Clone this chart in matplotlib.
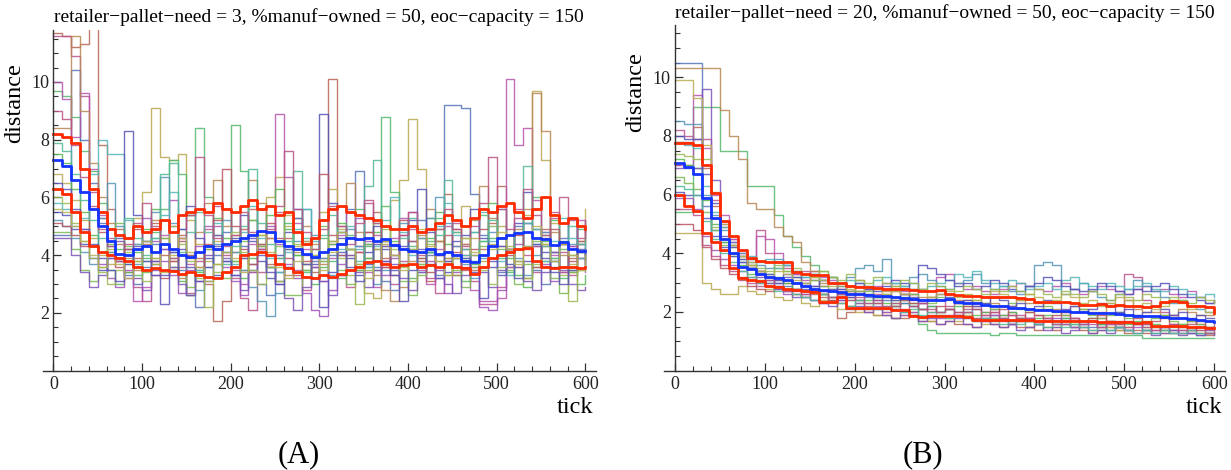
import numpy as np
import matplotlib
matplotlib.use('Agg')
import matplotlib.pyplot as plt
from matplotlib.colors import hsv_to_rgb
from matplotlib.ticker import MultipleLocator

plt.rcParams['font.family'] = ['Liberation Serif', 'DejaVu Serif']

# Colours of the single runs (Mathematica style hue sequence)
run_hues = [0.03, 0.906, 0.142, 0.378, 0.614, 0.85, 0.086, 0.322,
            0.558, 0.794, 0.266, 0.502, 0.67, 0.738, 0.974, 0.21,
            0.446, 0.682, 0.918, 0.154]

# Panel A: retailer-pallet-need = 3, one value every 10 ticks (0..600)
runs_a = [
    [11.7, 11.6, 11.2, 11.3, 12.5, 7.8, 5.6, 4.9, 4.2, 3.9,
     4.4, 5.1, 4.0, 3.5, 4.7, 5.4, 3.9, 3.0, 1.7, 2.4,
     3.6, 4.9, 5.6, 4.3, 3.7, 3.1, 4.6, 5.3, 4.0, 3.4,
     3.9, 10.1, 5.0, 4.2, 3.6, 4.8, 5.5, 3.9, 3.3, 4.2,
     5.0, 3.8, 3.1, 4.5, 6.1, 4.9, 4.0, 3.5, 4.2, 5.1,
     6.4, 4.7, 3.8, 3.2, 4.3, 4.9, 4.1, 3.4, 3.9, 4.4, 4.6],
    [11.6, 11.6, 10.9, 9.5, 6.2, 5.3, 4.6, 3.8, 3.4, 2.9,
     2.4, 3.3, 4.2, 5.0, 3.6, 2.7, 3.8, 4.9, 5.7, 4.3,
     3.2, 2.5, 2.1, 3.4, 4.6, 5.5, 4.2, 3.5, 2.8, 3.9,
     5.2, 4.4, 3.3, 2.9, 4.1, 5.8, 4.7, 3.6, 3.0, 3.8,
     4.9, 4.0, 3.2, 2.7, 3.9, 5.1, 4.4, 3.1, 2.3, 2.3,
     2.9, 4.2, 5.3, 4.0, 3.4, 4.6, 5.5, 4.1, 3.3, 3.9, 4.2],
    [6.8, 6.5, 5.9, 5.2, 4.6, 4.0, 3.7, 3.9, 4.6, 5.3,
     6.2, 9.1, 7.4, 7.3, 7.5, 5.2, 4.4, 3.8, 4.5, 5.6,
     4.7, 3.9, 3.4, 4.8, 6.0, 6.7, 5.4, 4.3, 3.7, 4.6,
     5.5, 6.3, 4.9, 4.0, 3.5, 2.7, 2.5, 4.4, 5.9, 6.6,
     8.7, 7.0, 5.3, 4.5, 3.9, 4.8, 5.7, 4.6, 3.8, 4.4,
     5.0, 4.2, 3.6, 5.4, 9.7, 7.3, 5.1, 4.4, 3.7, 4.5, 5.6],
    [9.7, 9.5, 8.8, 7.6, 6.9, 5.8, 4.9, 4.2, 3.7, 3.3,
     3.9, 4.8, 5.6, 7.3, 6.8, 5.4, 8.4, 6.0, 4.7, 4.1,
     8.5, 6.9, 5.2, 4.4, 3.6, 4.5, 5.1, 4.0, 3.4, 3.9,
     4.6, 3.8, 3.2, 4.7, 5.6, 4.3, 3.5, 8.8, 6.2, 4.9,
     4.3, 3.7, 4.5, 5.3, 4.1, 3.3, 3.9, 4.8, 5.4, 4.6,
     3.9, 3.4, 4.2, 5.1, 6.0, 4.7, 3.8, 3.2, 4.0, 4.9, 5.1],
    [4.7, 4.7, 10.4, 8.0, 6.5, 5.1, 4.3, 3.8, 3.3, 3.0,
     3.6, 4.4, 5.2, 4.1, 3.5, 2.6, 2.2, 3.1, 4.0, 4.8,
     5.5, 4.3, 3.7, 3.0, 2.6, 3.4, 4.2, 5.3, 4.5, 3.8,
     3.3, 4.0, 4.8, 5.6, 6.9, 4.4, 3.6, 3.1, 2.8, 3.7,
     4.5, 5.2, 4.0, 3.3, 9.2, 9.2, 9.1, 6.1, 4.7, 3.9,
     3.4, 4.1, 5.0, 4.3, 3.5, 3.0, 3.8, 4.6, 5.3, 4.4, 4.0],
    [10.0, 9.4, 8.1, 9.6, 7.0, 5.4, 4.5, 3.9, 3.2, 2.4,
     2.9, 3.8, 4.7, 5.9, 4.6, 3.7, 3.1, 4.2, 5.0, 4.1,
     3.5, 3.0, 4.4, 5.6, 4.8, 8.9, 6.7, 5.1, 4.2, 3.6,
     3.1, 3.9, 4.7, 5.5, 4.3, 3.4, 2.9, 3.8, 4.6, 5.3,
     4.1, 3.5, 3.0, 4.2, 5.0, 4.3, 3.6, 2.8, 2.4, 2.4,
     2.5, 10.1, 7.8, 8.4, 5.9, 4.8, 4.0, 3.4, 4.3, 5.2, 4.7],
    [8.4, 8.4, 11.6, 9.0, 7.2, 6.0, 5.1, 4.4, 3.9, 3.5,
     4.3, 5.2, 4.6, 3.8, 3.2, 3.9, 4.8, 5.8, 6.6, 5.0,
     4.1, 3.5, 6.6, 5.8, 4.6, 3.9, 3.3, 4.1, 5.0, 4.4,
     3.7, 4.5, 5.7, 6.5, 4.8, 3.9, 3.3, 2.8, 2.4, 2.9,
     3.8, 4.7, 5.6, 4.5, 3.8, 3.3, 4.4, 5.2, 6.4, 5.3,
     4.3, 3.6, 4.9, 5.6, 9.6, 8.3, 4.8, 4.0, 3.4, 4.1, 4.5],
    [7.5, 7.2, 6.3, 5.5, 4.7, 4.1, 3.5, 3.0, 3.4, 4.1,
     4.9, 5.6, 4.4, 3.6, 3.1, 2.6, 3.4, 4.3, 5.3, 4.6,
     3.8, 3.2, 3.9, 4.7, 5.4, 6.3, 4.9, 4.0, 3.5, 3.0,
     3.6, 4.4, 5.1, 4.2, 3.5, 3.9, 4.8, 5.7, 4.5, 3.7,
     3.2, 3.9, 4.6, 5.5, 4.4, 3.6, 3.1, 3.7, 4.5, 5.8,
     4.6, 3.9, 3.3, 2.9, 3.6, 4.5, 5.2, 4.2, 3.5, 3.0, 3.3],
    [5.2, 5.0, 4.6, 4.1, 3.7, 5.3, 6.5, 5.0, 4.2, 3.7,
     4.5, 5.5, 6.7, 5.1, 4.0, 3.4, 2.8, 3.6, 4.4, 5.2,
     4.1, 3.5, 2.9, 2.4, 1.9, 2.7, 3.6, 4.5, 5.6, 4.7,
     3.9, 3.3, 4.0, 4.9, 4.3, 3.6, 3.0, 3.5, 4.3, 5.1,
     4.2, 3.6, 5.3, 6.0, 5.1, 4.3, 3.7, 3.2, 3.9, 4.8,
     5.6, 4.7, 3.9, 3.3, 4.0, 4.8, 4.1, 3.6, 4.4, 5.0, 4.8],
    [6.3, 6.1, 5.5, 4.9, 4.3, 3.7, 3.2, 2.9, 3.5, 4.4,
     5.3, 4.5, 3.8, 3.3, 2.7, 3.5, 4.3, 5.0, 4.2, 3.6,
     3.1, 2.6, 3.4, 4.2, 5.0, 4.4, 3.7, 3.2, 2.7, 2.1,
     1.9, 2.8, 3.7, 4.6, 5.3, 4.5, 3.8, 3.3, 3.9, 4.7,
     5.5, 4.6, 3.8, 3.2, 2.7, 3.4, 4.2, 3.6, 2.2, 2.1,
     2.8, 3.6, 4.4, 5.1, 4.3, 3.7, 3.1, 3.6, 4.3, 3.9, 3.4],
    [4.8, 4.8, 4.2, 3.5, 3.1, 3.6, 4.4, 5.1, 4.3, 3.8,
     3.4, 3.9, 4.6, 3.9, 3.3, 2.9, 3.5, 4.2, 3.7, 3.2,
     3.8, 4.5, 5.2, 4.3, 3.6, 3.1, 2.6, 2.6, 3.5, 4.2,
     5.0, 4.2, 3.5, 3.0, 3.7, 4.4, 5.1, 4.3, 3.6, 3.1,
     2.6, 3.3, 4.1, 4.9, 4.1, 3.5, 2.9, 3.6, 4.3, 5.0,
     4.2, 3.5, 3.0, 3.7, 4.5, 3.8, 3.2, 2.7, 3.4, 4.1, 3.8],
    [5.8, 5.6, 5.0, 5.3, 6.8, 8.0, 7.5, 7.5, 5.2, 4.4,
     3.8, 4.6, 5.4, 6.2, 4.9, 4.0, 3.5, 4.3, 5.1, 4.4,
     3.7, 4.8, 5.7, 4.6, 3.9, 3.4, 4.1, 4.9, 5.6, 4.5,
     3.8, 3.2, 4.2, 5.0, 4.2, 3.6, 4.3, 5.2, 6.0, 4.8,
     4.0, 3.4, 4.1, 5.0, 5.8, 4.7, 4.0, 4.8, 5.5, 4.5,
     3.8, 3.3, 4.2, 5.1, 4.4, 3.8, 4.5, 5.3, 4.6, 3.9, 4.4],
    [5.5, 5.4, 4.9, 4.4, 3.9, 3.5, 3.9, 4.6, 8.3, 5.4,
     4.5, 3.8, 3.3, 4.1, 4.9, 5.7, 4.6, 3.9, 3.3, 3.8,
     4.6, 5.4, 4.5, 3.8, 3.2, 4.0, 4.8, 5.6, 4.4, 3.7,
     8.9, 5.8, 4.6, 3.9, 3.3, 4.1, 5.0, 4.2, 3.5, 4.3,
     5.2, 6.3, 4.8, 4.0, 3.4, 3.9, 4.7, 5.6, 4.6, 3.8,
     3.3, 4.2, 5.1, 6.2, 4.9, 4.1, 3.6, 4.4, 5.3, 4.2, 3.7],
    [4.6, 4.6, 4.0, 3.4, 2.9, 3.3, 3.9, 4.5, 3.8, 3.2,
     2.8, 3.5, 4.2, 3.6, 3.0, 2.6, 3.3, 4.0, 4.7, 3.9,
     3.3, 2.8, 3.5, 4.2, 3.6, 3.0, 2.5, 2.1, 2.9, 3.6,
     3.1, 2.6, 3.3, 4.0, 3.4, 2.9, 3.5, 4.3, 3.7, 3.2,
     2.8, 3.4, 4.1, 3.5, 3.0, 2.7, 3.3, 4.0, 3.4, 2.9,
     3.5, 4.2, 3.6, 3.1, 2.8, 3.4, 4.1, 3.5, 3.0, 2.8, 2.9],
    [5.1, 5.0, 4.7, 4.3, 5.6, 4.8, 4.1, 3.6, 4.2, 4.9,
     4.3, 3.7, 3.2, 3.8, 4.5, 4.0, 3.6, 4.4, 5.2, 7.0,
     5.0, 4.2, 3.7, 4.4, 5.1, 4.6, 3.9, 3.3, 3.8, 4.6,
     6.8, 4.7, 4.0, 3.5, 4.1, 4.8, 4.2, 3.6, 4.4, 5.2,
     4.5, 3.9, 3.4, 4.0, 4.7, 4.1, 3.5, 4.2, 4.9, 5.5,
     4.6, 4.0, 4.7, 4.2, 3.6, 4.3, 4.9, 4.4, 3.8, 4.5, 4.9],
    [6.0, 5.8, 5.1, 4.5, 3.9, 3.4, 3.0, 3.5, 4.1, 3.6,
     3.1, 3.7, 4.4, 5.0, 4.4, 3.8, 3.2, 2.2, 3.4, 4.1,
     4.8, 4.1, 3.5, 3.0, 3.6, 4.3, 5.0, 4.4, 3.7, 3.2,
     3.8, 4.5, 3.9, 3.3, 2.3, 3.5, 4.2, 4.9, 4.2, 3.6,
     3.1, 3.7, 4.4, 3.8, 3.3, 3.9, 4.6, 4.0, 3.5, 3.0,
     3.6, 4.3, 3.8, 3.2, 3.7, 4.4, 3.9, 3.3, 2.4, 3.5, 4.0],
    [7.9, 7.6, 6.8, 5.9, 5.2, 4.6, 4.1, 4.7, 5.3, 4.6,
     4.0, 4.6, 6.8, 7.2, 4.1, 4.8, 5.5, 4.8, 4.2, 3.7,
     4.3, 5.0, 7.0, 5.1, 4.4, 3.9, 4.5, 6.9, 4.6, 4.0,
     4.7, 5.4, 4.8, 4.2, 3.8, 6.4, 7.3, 4.5, 4.0, 4.6,
     5.3, 4.6, 4.1, 4.7, 6.6, 4.8, 4.2, 3.8, 4.5, 5.2,
     4.6, 4.1, 4.8, 7.1, 4.9, 4.3, 3.9, 4.5, 5.0, 4.4, 4.7],
    [6.5, 6.3, 5.6, 4.9, 4.4, 3.9, 3.5, 3.1, 3.7, 4.3,
     3.8, 3.3, 2.3, 3.5, 4.2, 3.6, 3.1, 3.6, 4.3, 3.8,
     3.3, 3.9, 4.6, 4.0, 3.4, 3.0, 3.6, 4.2, 3.7, 3.2,
     2.2, 3.4, 4.1, 3.6, 3.1, 3.7, 4.4, 3.8, 3.3, 2.4,
     3.5, 4.2, 3.7, 3.2, 3.8, 4.5, 3.9, 3.4, 2.5, 3.6,
     4.3, 3.7, 3.2, 3.8, 4.4, 3.9, 3.4, 3.0, 3.5, 4.1, 3.7],
    [9.0, 8.7, 7.8, 6.7, 5.7, 4.9, 4.3, 3.8, 4.4, 5.1,
     5.8, 5.0, 4.4, 3.9, 4.6, 5.4, 7.4, 5.4, 4.6, 4.0,
     4.7, 5.5, 4.8, 4.2, 4.9, 5.7, 7.6, 5.6, 4.8, 4.2,
     4.9, 5.7, 5.0, 4.4, 5.1, 5.9, 5.1, 4.5, 4.0, 4.7,
     5.5, 4.8, 4.2, 4.9, 5.6, 4.9, 4.3, 5.0, 5.8, 7.4,
     5.6, 4.9, 5.6, 6.3, 5.4, 4.7, 5.3, 6.0, 5.2, 4.6, 5.2],
    [5.6, 5.5, 5.0, 4.5, 4.0, 3.6, 4.2, 3.7, 3.2, 3.8,
     4.5, 3.9, 3.4, 4.0, 4.6, 4.1, 3.6, 3.1, 3.7, 4.4,
     3.9, 3.4, 4.0, 4.7, 4.1, 3.6, 3.2, 3.8, 4.5, 4.0,
     3.5, 4.1, 4.8, 4.2, 3.7, 3.2, 3.8, 4.5, 4.0, 3.5,
     4.2, 4.9, 4.3, 3.8, 3.3, 3.9, 4.6, 4.1, 3.6, 4.2,
     4.8, 4.2, 3.7, 4.3, 5.0, 4.4, 3.8, 4.4, 4.0, 3.5, 4.0],
]
mean_a = [7.3, 7.1, 6.6, 6.2, 5.6, 5.0, 4.5, 4.05, 4.0, 4.2,
          4.3, 4.1, 4.4, 4.2, 4.0, 3.95, 4.1, 4.3, 4.2, 4.4,
          4.5, 4.6, 4.7, 4.85, 4.8, 4.5, 4.3, 4.2, 4.05, 3.95,
          4.1, 4.2, 4.4, 4.6, 4.55, 4.6, 4.5, 4.55, 4.35, 4.2,
          4.15, 4.1, 4.2, 4.05, 4.1, 4.0, 3.8, 3.75, 4.0, 4.3,
          4.6, 4.7, 4.75, 4.8, 4.6, 4.55, 4.35, 4.45, 4.2, 4.15, 4.15]
upper_a = [8.2, 8.1, 7.9, 7.0, 6.3, 5.5, 4.9, 4.7, 4.6, 5.0,
           4.8, 4.9, 5.2, 4.8, 5.4, 5.5, 5.6, 5.5, 5.8, 5.6,
           5.5, 5.7, 5.9, 5.6, 5.7, 5.4, 5.5, 4.8, 4.4, 4.6,
           5.2, 5.6, 5.7, 5.5, 5.4, 5.3, 5.2, 5.0, 4.9, 4.9,
           5.0, 4.8, 4.9, 5.1, 5.4, 5.2, 5.0, 5.3, 5.6, 5.5,
           5.7, 5.8, 5.5, 5.3, 5.6, 6.0, 5.4, 5.1, 5.3, 5.0, 4.9]
lower_a = [6.3, 6.1, 5.5, 4.8, 4.3, 4.1, 4.0, 3.9, 3.8, 3.6,
           3.5, 3.55, 3.5, 3.45, 3.35, 3.4, 3.3, 3.25, 3.2, 3.4,
           3.6, 4.0, 4.05, 4.1, 4.0, 3.7, 3.55, 3.4, 3.25, 3.2,
           3.3, 3.25, 3.35, 3.5, 3.6, 3.75, 3.8, 3.7, 3.6, 3.65,
           3.7, 3.6, 3.65, 3.6, 3.7, 3.6, 3.55, 3.35, 3.6, 3.9,
           4.0, 4.1, 4.2, 4.25, 3.8, 3.6, 3.55, 3.6, 3.6, 3.55, 3.6]

# Panel B: retailer-pallet-need = 20, one value every 10 ticks (0..600)
runs_b = [
    [7.8, 7.8, 8.3, 6.9, 5.6, 4.9, 4.3, 3.9, 3.6, 3.4,
     3.2, 3.1, 3.0, 2.8, 2.7, 2.6, 2.5, 2.4, 1.8, 2.0,
     2.1, 2.0, 1.9, 1.9, 1.8, 1.8, 1.9, 1.7, 1.7, 1.6,
     1.7, 1.6, 1.6, 1.5, 1.7, 1.6, 1.5, 1.6, 1.5, 1.5,
     1.4, 1.5, 1.4, 1.6, 1.5, 1.4, 1.3, 1.4, 1.5, 1.4,
     1.3, 1.4, 1.3, 1.5, 1.4, 1.3, 1.3, 1.4, 1.3, 1.2, 1.3],
    [8.2, 8.0, 7.9, 7.9, 5.8, 5.0, 4.5, 4.1, 3.8, 4.8,
     4.0, 3.7, 3.5, 3.3, 3.4, 3.1, 2.9, 3.0, 2.8, 2.7,
     2.9, 2.8, 2.6, 2.5, 2.7, 2.6, 2.4, 2.3, 2.5, 2.4,
     2.2, 2.3, 2.1, 2.2, 2.0, 2.1, 1.9, 2.0, 1.9, 1.8,
     1.9, 1.8, 1.7, 1.9, 1.8, 1.7, 1.6, 1.8, 1.7, 1.6,
     3.3, 3.2, 2.4, 2.2, 2.0, 1.9, 1.8, 1.7, 1.6, 1.5, 1.5],
    [4.7, 4.7, 4.7, 3.0, 2.8, 2.6, 2.6, 2.9, 2.7, 2.6,
     2.8, 2.5, 2.4, 2.6, 2.3, 2.2, 2.4, 2.3, 2.1, 2.2,
     2.0, 2.1, 1.9, 2.0, 1.8, 1.9, 2.0, 1.8, 1.7, 1.9,
     1.8, 1.7, 1.9, 1.8, 1.6, 1.7, 1.8, 1.6, 1.7, 1.5,
     1.6, 1.7, 1.5, 1.6, 1.7, 1.5, 1.4, 1.6, 1.5, 1.4,
     1.5, 1.6, 1.4, 1.5, 1.3, 1.4, 1.5, 1.3, 1.4, 1.3, 1.3],
    [5.4, 5.4, 9.0, 9.0, 9.0, 7.5, 7.5, 7.5, 6.3, 6.3,
     6.3, 5.3, 4.6, 4.2, 3.9, 3.6, 3.4, 3.2, 3.0, 2.9,
     2.7, 2.6, 2.5, 2.5, 2.3, 2.3, 2.2, 1.6, 1.4, 1.3,
     1.3, 1.3, 1.3, 1.3, 1.3, 1.2, 1.3, 1.3, 1.2, 1.2,
     1.2, 1.2, 1.2, 1.2, 1.2, 1.2, 1.2, 1.2, 1.2, 1.2,
     1.2, 1.2, 1.1, 1.1, 1.1, 1.1, 1.1, 1.1, 1.1, 1.1, 1.1],
    [10.5, 10.5, 10.5, 5.6, 4.8, 4.4, 4.0, 3.7, 3.5, 3.3,
     3.2, 3.0, 2.9, 2.8, 2.9, 2.7, 2.6, 2.7, 2.5, 2.6,
     2.4, 2.5, 2.3, 2.4, 2.2, 2.3, 2.2, 2.1, 2.2, 2.0,
     2.1, 1.9, 2.0, 2.1, 1.8, 1.9, 1.8, 1.7, 1.8, 1.7,
     1.6, 1.7, 1.6, 1.8, 1.5, 1.6, 1.5, 1.6, 1.4, 1.5,
     1.4, 1.6, 1.4, 1.3, 1.5, 1.3, 1.4, 1.3, 1.2, 1.3, 1.3],
    [7.0, 7.0, 9.4, 7.6, 6.0, 5.3, 4.5, 4.0, 3.7, 4.6,
     4.5, 4.0, 3.6, 3.3, 3.1, 3.4, 3.2, 3.1, 2.9, 2.7,
     2.6, 2.8, 2.9, 3.0, 2.8, 2.7, 2.6, 2.8, 2.7, 3.2,
     3.3, 3.0, 2.8, 2.9, 2.7, 2.6, 2.8, 2.9, 3.0, 2.9,
     2.8, 2.7, 2.9, 3.0, 2.8, 2.6, 2.7, 2.9, 2.8, 2.7,
     2.6, 2.8, 2.9, 2.7, 2.8, 2.6, 2.5, 2.7, 2.5, 2.3, 2.4],
    [10.3, 10.3, 10.3, 10.3, 10.3, 8.9, 8.0, 7.2, 5.7, 5.5,
     5.5, 4.9, 4.6, 4.4, 3.7, 3.4, 3.0, 3.2, 3.0, 2.9,
     3.1, 2.8, 2.8, 2.7, 2.9, 2.6, 2.6, 2.5, 2.5, 2.7,
     2.6, 2.4, 2.4, 2.3, 2.5, 2.3, 2.2, 2.2, 2.4, 2.3,
     2.3, 2.1, 2.1, 2.0, 2.2, 2.1, 2.0, 2.0, 2.3, 2.2,
     2.4, 2.1, 2.0, 2.0, 1.9, 1.9, 2.1, 2.0, 1.9, 1.9, 1.9],
    [7.2, 7.0, 6.9, 5.8, 5.0, 4.4, 3.9, 3.6, 3.3, 3.1,
     3.0, 3.2, 3.0, 2.8, 2.9, 2.7, 2.6, 2.5, 2.6, 2.4,
     2.3, 2.4, 2.5, 2.3, 2.2, 2.4, 2.3, 2.1, 2.2, 2.0,
     2.1, 2.2, 2.0, 1.9, 2.0, 1.8, 1.9, 2.0, 1.8, 1.7,
     1.8, 1.9, 1.7, 1.8, 1.6, 1.7, 1.8, 1.6, 1.7, 1.5,
     1.6, 1.7, 1.5, 1.6, 1.4, 1.5, 1.6, 1.4, 1.5, 1.4, 1.4],
    [8.5, 8.4, 8.4, 6.0, 5.3, 4.8, 4.3, 4.0, 3.8, 3.6,
     3.5, 3.8, 3.6, 3.4, 3.2, 3.3, 3.1, 3.0, 3.0, 3.2,
     3.5, 3.6, 3.4, 3.8, 3.0, 2.9, 3.2, 3.3, 3.1, 2.9,
     2.8, 3.0, 3.1, 3.3, 3.0, 2.8, 2.9, 2.7, 2.6, 2.9,
     3.6, 3.7, 3.6, 2.6, 2.8, 3.0, 2.7, 2.5, 2.4, 2.6,
     2.8, 3.1, 2.9, 2.7, 2.5, 2.3, 2.4, 2.2, 2.1, 2.0, 2.1],
    [5.9, 5.9, 5.5, 4.6, 4.1, 3.8, 3.6, 3.4, 3.2, 3.0,
     2.9, 2.8, 2.6, 2.7, 2.5, 2.4, 2.3, 2.5, 2.4, 2.2,
     2.3, 2.1, 2.2, 2.0, 2.1, 1.9, 2.0, 2.1, 1.9, 1.8,
     1.9, 2.0, 1.8, 1.7, 1.8, 1.9, 1.7, 1.6, 1.7, 1.8,
     1.6, 1.7, 1.8, 1.6, 1.5, 1.6, 1.7, 1.5, 1.6, 1.5,
     1.4, 1.5, 1.6, 1.4, 1.5, 1.4, 1.3, 1.4, 1.5, 1.4, 1.4],
    [6.6, 6.4, 6.2, 5.4, 4.8, 4.3, 4.0, 3.8, 3.6, 3.4,
     3.3, 3.5, 3.4, 3.2, 3.0, 3.1, 2.9, 2.8, 2.9, 2.7,
     2.6, 2.7, 2.5, 2.6, 2.4, 2.5, 2.6, 2.4, 2.3, 2.5,
     2.4, 2.3, 2.2, 2.4, 2.3, 2.1, 2.2, 2.3, 2.1, 2.0,
     2.1, 2.2, 2.0, 1.9, 2.0, 2.1, 1.9, 1.8, 1.9, 2.0,
     1.8, 1.9, 1.7, 1.8, 1.9, 1.7, 1.6, 1.7, 1.6, 1.5, 1.5],
    [7.8, 7.7, 7.6, 6.3, 5.4, 4.9, 4.4, 4.1, 3.9, 3.7,
     3.8, 3.5, 3.6, 3.4, 3.2, 3.3, 3.1, 3.2, 3.0, 3.1,
     3.0, 2.9, 3.1, 3.2, 3.0, 2.9, 3.0, 2.8, 2.9, 3.0,
     3.1, 3.3, 3.2, 3.4, 3.1, 3.0, 2.9, 3.1, 3.0, 2.8,
     2.9, 3.0, 2.8, 3.1, 3.2, 3.0, 2.9, 2.8, 3.0, 2.9,
     2.8, 2.9, 3.0, 2.8, 2.7, 2.9, 2.8, 2.6, 2.5, 2.6, 2.5],
    [6.1, 6.0, 6.0, 5.2, 4.6, 4.2, 3.9, 3.7, 3.5, 3.4,
     3.3, 3.1, 3.3, 3.2, 3.0, 2.9, 3.1, 3.0, 2.8, 2.9,
     3.0, 2.8, 2.7, 2.9, 3.1, 3.0, 2.8, 3.6, 3.5, 3.3,
     3.1, 2.9, 3.0, 2.8, 2.9, 3.1, 3.0, 2.8, 2.7, 2.9,
     3.0, 3.2, 3.1, 2.9, 2.8, 2.7, 2.8, 3.0, 2.9, 2.7,
     2.6, 2.8, 2.7, 2.9, 3.0, 2.8, 2.6, 2.5, 2.4, 2.3, 2.4],
    [6.9, 6.9, 6.9, 9.6, 6.5, 5.1, 4.4, 3.9, 3.5, 3.2,
     3.0, 2.8, 2.7, 2.5, 2.6, 2.4, 2.3, 2.2, 2.4, 2.1,
     2.2, 2.0, 2.1, 1.9, 1.8, 2.0, 1.9, 1.7, 1.8, 1.6,
     1.7, 1.8, 1.6, 1.5, 1.7, 1.6, 1.5, 1.6, 1.4, 1.5,
     1.6, 1.4, 1.5, 1.3, 1.4, 1.5, 1.3, 1.4, 1.3, 1.5,
     1.4, 1.3, 1.4, 1.2, 1.3, 1.4, 1.2, 1.3, 1.2, 1.3, 1.2],
    [5.0, 5.0, 4.8, 4.2, 3.8, 3.5, 3.3, 3.1, 2.9, 2.8,
     2.7, 2.9, 2.8, 2.6, 2.5, 2.7, 2.6, 2.4, 2.3, 2.5,
     2.4, 2.2, 2.3, 2.1, 2.2, 2.4, 2.3, 2.1, 2.0, 2.2,
     2.1, 2.0, 2.2, 2.1, 1.9, 2.0, 2.1, 1.9, 1.8, 2.0,
     1.9, 1.8, 1.9, 2.0, 1.8, 1.7, 1.8, 1.9, 1.7, 1.6,
     1.7, 1.8, 1.6, 1.7, 1.8, 1.6, 1.5, 1.6, 1.7, 1.5, 1.6],
    [7.4, 7.3, 7.2, 7.2, 4.9, 4.5, 4.2, 3.9, 3.7, 3.5,
     3.4, 3.6, 3.4, 3.5, 3.3, 3.2, 3.4, 3.2, 3.1, 3.3,
     3.1, 3.0, 3.2, 3.0, 2.9, 3.1, 3.0, 2.8, 3.0, 2.9,
     2.8, 2.7, 2.9, 2.8, 2.6, 2.8, 2.7, 2.9, 2.7, 2.6,
     2.8, 2.6, 2.5, 2.7, 2.6, 2.5, 2.7, 2.6, 2.4, 2.6,
     2.5, 2.4, 2.6, 2.5, 2.3, 2.5, 2.4, 2.3, 2.5, 2.4, 2.3],
    [6.3, 6.2, 6.0, 5.1, 4.5, 4.0, 3.7, 3.4, 3.2, 3.0,
     2.9, 2.7, 2.8, 2.6, 2.5, 2.4, 2.6, 2.5, 2.3, 2.2,
     2.4, 2.3, 2.1, 2.2, 2.1, 2.0, 2.1, 1.9, 2.0, 1.9,
     1.8, 1.9, 1.8, 1.7, 1.8, 1.7, 1.6, 1.7, 1.6, 1.7,
     1.6, 1.5, 1.6, 1.5, 1.6, 1.5, 1.4, 1.5, 1.4, 1.5,
     1.4, 1.3, 1.4, 1.3, 1.4, 1.3, 1.3, 1.4, 1.3, 1.3, 1.3],
    [8.0, 7.9, 7.9, 6.7, 5.7, 4.6, 4.2, 3.8, 3.5, 3.3,
     3.1, 3.0, 3.2, 3.0, 2.8, 2.9, 2.7, 2.8, 2.6, 2.5,
     2.7, 2.6, 2.4, 2.5, 2.4, 2.6, 2.5, 2.3, 2.4, 2.6,
     2.5, 2.3, 2.4, 2.2, 2.3, 2.5, 2.4, 2.2, 2.3, 2.1,
     2.2, 2.4, 2.3, 2.1, 2.2, 2.0, 2.1, 2.3, 2.2, 2.0,
     2.1, 1.9, 2.0, 2.2, 2.1, 1.9, 2.0, 1.8, 1.9, 1.8, 1.8],
    [5.5, 5.5, 5.3, 4.3, 3.9, 3.6, 3.4, 3.2, 3.0, 2.9,
     3.1, 2.9, 2.7, 2.8, 2.6, 2.8, 2.7, 2.5, 2.6, 2.4,
     2.5, 2.3, 2.4, 2.2, 2.3, 2.1, 2.2, 2.3, 2.1, 2.0,
     2.1, 1.9, 2.0, 1.8, 1.9, 2.0, 1.8, 1.9, 1.7, 1.8,
     1.7, 1.8, 1.6, 1.7, 1.8, 1.6, 1.7, 1.5, 1.6, 1.7,
     1.5, 1.6, 1.5, 1.4, 1.5, 1.6, 1.4, 1.5, 1.4, 1.3, 1.4],
    [9.9, 9.9, 9.3, 7.7, 6.1, 5.0, 4.3, 3.9, 3.6, 3.4,
     3.2, 3.4, 3.3, 3.1, 3.0, 3.2, 3.1, 2.9, 3.0, 2.8,
     2.7, 2.9, 2.8, 2.6, 2.7, 2.6, 2.8, 2.7, 2.5, 2.6,
     2.7, 2.5, 2.6, 2.4, 2.5, 2.7, 2.6, 2.5, 2.4, 2.6,
     2.5, 2.3, 2.4, 2.6, 2.5, 2.3, 2.4, 2.2, 2.3, 2.5,
     2.4, 2.2, 2.3, 2.1, 2.2, 2.4, 2.3, 2.1, 2.2, 2.0, 2.1],
]
mean_b = [7.07, 6.95, 6.7, 5.9, 5.2, 4.5, 4.0, 3.55, 3.45, 3.3,
          3.2, 3.15, 3.1, 3.0, 2.9, 2.78, 2.75, 2.72, 2.68, 2.62,
          2.6, 2.58, 2.56, 2.55, 2.5, 2.48, 2.45, 2.42, 2.42, 2.4,
          2.45, 2.35, 2.3, 2.32, 2.25, 2.2, 2.2, 2.15, 2.15, 2.1,
          2.08, 2.06, 2.05, 2.03, 2.0, 2.0, 1.98, 1.95, 1.95, 1.92,
          1.9, 1.88, 1.87, 1.85, 1.82, 1.8, 1.78, 1.75, 1.72, 1.68, 1.65]
upper_b = [7.75, 7.75, 7.7, 7.0, 6.05, 5.1, 4.6, 4.1, 3.85, 3.75,
           3.7, 3.72, 3.7, 3.35, 3.3, 3.25, 3.25, 3.0, 3.0, 2.9,
           2.85, 2.85, 2.82, 2.8, 2.8, 2.78, 2.75, 2.72, 2.7, 2.75,
           2.6, 2.58, 2.55, 2.56, 2.52, 2.5, 2.52, 2.5, 2.48, 2.45,
           2.35, 2.35, 2.33, 2.35, 2.3, 2.25, 2.24, 2.26, 2.22, 2.24,
           2.2, 2.2, 2.18, 2.22, 2.35, 2.36, 2.35, 2.2, 2.2, 2.18, 1.96]
lower_b = [6.0, 5.6, 5.45, 4.7, 4.4, 4.1, 3.5, 3.15, 3.1, 3.05,
           2.9, 2.85, 2.8, 2.75, 2.7, 2.68, 2.35, 2.35, 2.5, 2.15,
           2.13, 2.13, 2.12, 2.12, 2.07, 2.07, 1.85, 1.84, 1.86, 1.86,
           1.85, 1.86, 1.84, 1.73, 1.74, 1.72, 1.73, 1.72, 1.74, 1.72,
           1.7, 1.71, 1.7, 1.69, 1.7, 1.68, 1.68, 1.66, 1.67, 1.65,
           1.66, 1.64, 1.65, 1.52, 1.52, 1.53, 1.52, 1.5, 1.48, 1.45, 1.45]

title_a = 'retailer\u2212pallet\u2212need = 3, %manuf\u2212owned = 50, eoc\u2212capacity = 150'
title_b = 'retailer\u2212pallet\u2212need = 20, %manuf\u2212owned = 50, eoc\u2212capacity = 150'


def draw_panel(ax, runs, mean, upper, lower, top):
    for vals, h in zip(runs, run_hues):
        t = np.linspace(0, 600, len(vals))
        ax.plot(t, vals, drawstyle='steps-post', lw=1.0, alpha=0.85,
                color=hsv_to_rgb((h, 0.55, 0.72)))
    for vals, col in [(upper, '#ff2a00'), (lower, '#ff2a00'), (mean, '#1433ff')]:
        t = np.linspace(0, 600, len(vals))
        ax.plot(t, vals, drawstyle='steps-post', lw=2.0, color=col)

    ax.set_xlim(-12, 612)
    ax.set_ylim(0, top)
    for s in ['top', 'right']:
        ax.spines[s].set_visible(False)
    ax.spines['left'].set_position(('data', 0))
    for s in ['left', 'bottom']:
        ax.spines[s].set_color('#333333')
        ax.spines[s].set_linewidth(1.0)
    ax.set_xticks(range(0, 601, 100))
    ax.set_yticks([2, 4, 6, 8, 10])
    ax.xaxis.set_minor_locator(MultipleLocator(20))
    ax.yaxis.set_minor_locator(MultipleLocator(0.5))
    ax.tick_params(which='major', direction='in', length=6, width=0.9,
                   color='#333333', labelsize=13, labelcolor='#222222')
    ax.tick_params(which='minor', direction='in', length=3.5, width=0.8,
                   color='#333333')
    ax.tick_params(axis='x', pad=4)
    ax.tick_params(axis='y', pad=3)


fig = plt.figure(figsize=(12.31, 4.70), dpi=100)
ax_a = fig.add_axes([0.0347, 0.2117, 0.4495, 0.7245])
ax_b = fig.add_axes([0.5396, 0.2113, 0.4555, 0.7355])

draw_panel(ax_a, runs_a, mean_a, upper_a, lower_a, 11.8)
draw_panel(ax_b, runs_b, mean_b, upper_b, lower_b, 11.78)

fig.text(0.2594, 1 - 17 / 470, title_a, ha='center', va='center', fontsize=14)
fig.text(0.7673, 1 - 13 / 470, title_b, ha='center', va='center', fontsize=14)
fig.text(15 / 1231, 1 - 103 / 470, 'distance', rotation=90, ha='center', va='center', fontsize=17.5)
fig.text(636 / 1231, 1 - 92 / 470, 'distance', rotation=90, ha='center', va='center', fontsize=17.5)
fig.text(593 / 1231, 1 - 413 / 470, 'tick', ha='right', va='baseline', fontsize=17.5)
fig.text(1222 / 1231, 1 - 413 / 470, 'tick', ha='right', va='baseline', fontsize=17.5)
fig.text(299 / 1231, 1 - 455 / 470, '(A)', ha='center', va='center', fontsize=22)
fig.text(923 / 1231, 1 - 455 / 470, '(B)', ha='center', va='center', fontsize=22)

fig.savefig('out.png', dpi=100)
